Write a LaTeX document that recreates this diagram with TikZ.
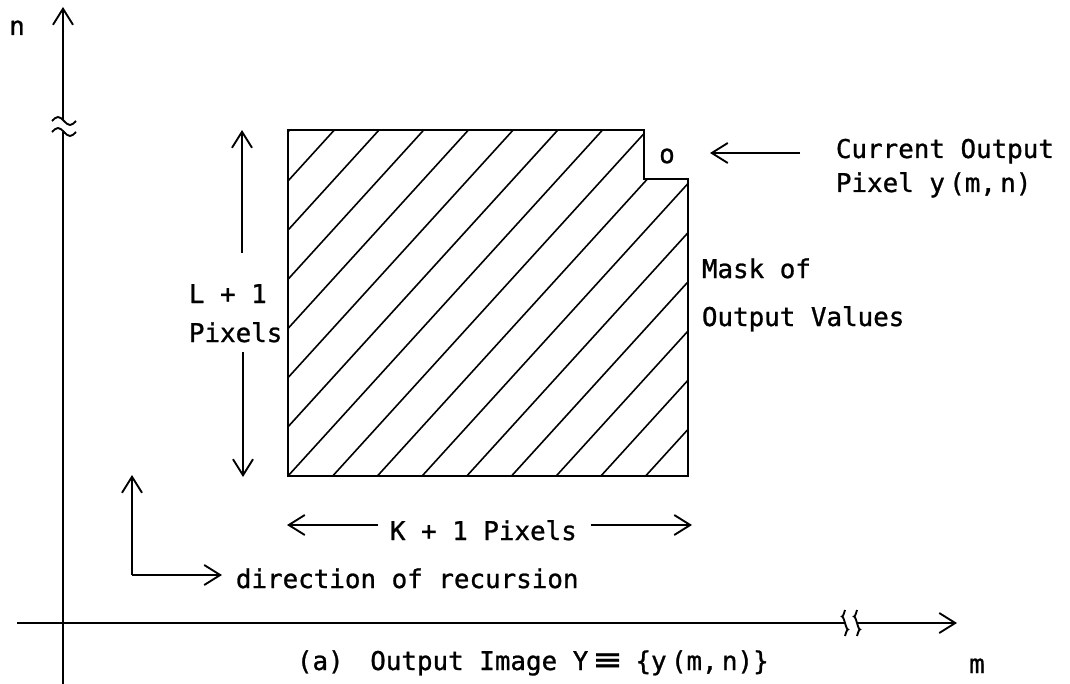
\documentclass[tikz,border=0pt]{standalone}
\usepackage{fontspec}
\newfontfamily\plotfont[FakeBold=1]{DejaVu Sans Mono}
\usetikzlibrary{arrows.meta}
\begin{document}
\begin{tikzpicture}[x=0.75pt,y=-0.75pt,line width=1.4pt,line join=miter,
  tip/.style={-{Straight Barb[length=12pt,width=15pt,line width=1.4pt]}},
  hatch/.style={line width=1.2pt},
  lbl/.style={font=\plotfont\fontsize{19.4}{22}\selectfont,inner sep=0pt,anchor=base west},
  brk/.style={line width=1.4pt}]
\useasboundingbox (0,0) rectangle (1070,684);
% axes
\coordinate (vbot) at (63,684);
\coordinate (vlow) at (63,132);
\coordinate (vhigh) at (63,120);
\coordinate (vtop) at (63,7);
\coordinate (hleft) at (17,623);
\coordinate (hbrk1) at (845,623);
\coordinate (hbrk2) at (857,623);
\coordinate (hright) at (957,623);
\draw (vbot) -- (vlow);
\draw[tip] (vhigh) -- (vtop);
\draw[brk] (52,121) sin (58,117) cos (64,121) sin (70,125) cos (76,121);
\draw[brk] (52,132) sin (58,128) cos (64,132) sin (70,136) cos (76,132);
\draw (hleft) -- (hbrk1);
\draw[tip] (hbrk2) -- (hright);
\draw[brk] (845,610) sin (842,616.5) cos (845,623) sin (848,629.5) cos (845,636);
\draw[brk] (857,610) sin (854,616.5) cos (857,623) sin (860,629.5) cos (857,636);
\node[lbl,anchor=base] (nlab) at (17,35) {n};
\node[lbl,anchor=base] (mlab) at (977,673) {m};
% mask
\coordinate (A) at (288,130);
\coordinate (B) at (644,130);
\coordinate (C) at (644,179);
\coordinate (D) at (688,179);
\coordinate (E) at (688,476);
\coordinate (F) at (288,476);
\begin{scope}
  \clip (A) -- (B) -- (C) -- (D) -- (E) -- (F) -- cycle;
  \foreach \k in {-8,...,9} {
    \draw[hatch] ({720.7+44.7*\k-72.7},80) -- ({720.7+44.7*\k-472.7},520);
  }
\end{scope}
\draw (A) -- (B) -- (C) -- (D) -- (E) -- (F) -- cycle;
% current output pixel
\node[lbl,anchor=center] (o) at (667,156) {o};
\coordinate (curstart) at (800,153);
\coordinate (curend) at (710,153);
\draw[tip] (curstart) -- (curend);
\node[lbl] (cur1) at (835,158) {Current Output};
\node[lbl] (cur2) at (835,192) {Pixel y\,(m,\,n)};
\node[lbl] (mask1) at (701,278) {Mask of};
\node[lbl] (mask2) at (701,326) {Output Values};
% L+1
\coordinate (Lu1) at (242,253);
\coordinate (Lu2) at (242,130);
\coordinate (Ld1) at (243,352);
\coordinate (Ld2) at (243,477);
\draw[tip] (Lu1) -- (Lu2);
\draw[tip] (Ld1) -- (Ld2);
\node[lbl] (L1) at (188,303) {L + 1};
\node[lbl] (L2) at (188,342) {Pixels};
% K+1
\node[lbl] (K) at (389,540) {K + 1 Pixels};
\coordinate (Kl) at (287,525);
\coordinate (Kr) at (692,525);
\draw[tip] (K.west |- Kl) ++(-11,0) coordinate (Kls) -- (Kl);
\draw[tip] (K.east |- Kr) ++(13,0) coordinate (Krs) -- (Kr);
% direction of recursion
\coordinate (dcorner) at (132,575);
\coordinate (dup) at (132,475);
\coordinate (dright) at (222,575);
\draw[tip] (dcorner) -- (dup);
\draw[tip] (dcorner) -- (dright);
\node[lbl] (dir) at (235,588) {direction of recursion};
% caption
\node[lbl] (cap) at (296,670) {(a)\hspace{20pt}Output Image Y\hspace{4.5pt}\scalebox{1.7}[1.2]{≡}\hspace{11pt}\{y\,(m,\,n)\}};
\end{tikzpicture}
\end{document}
